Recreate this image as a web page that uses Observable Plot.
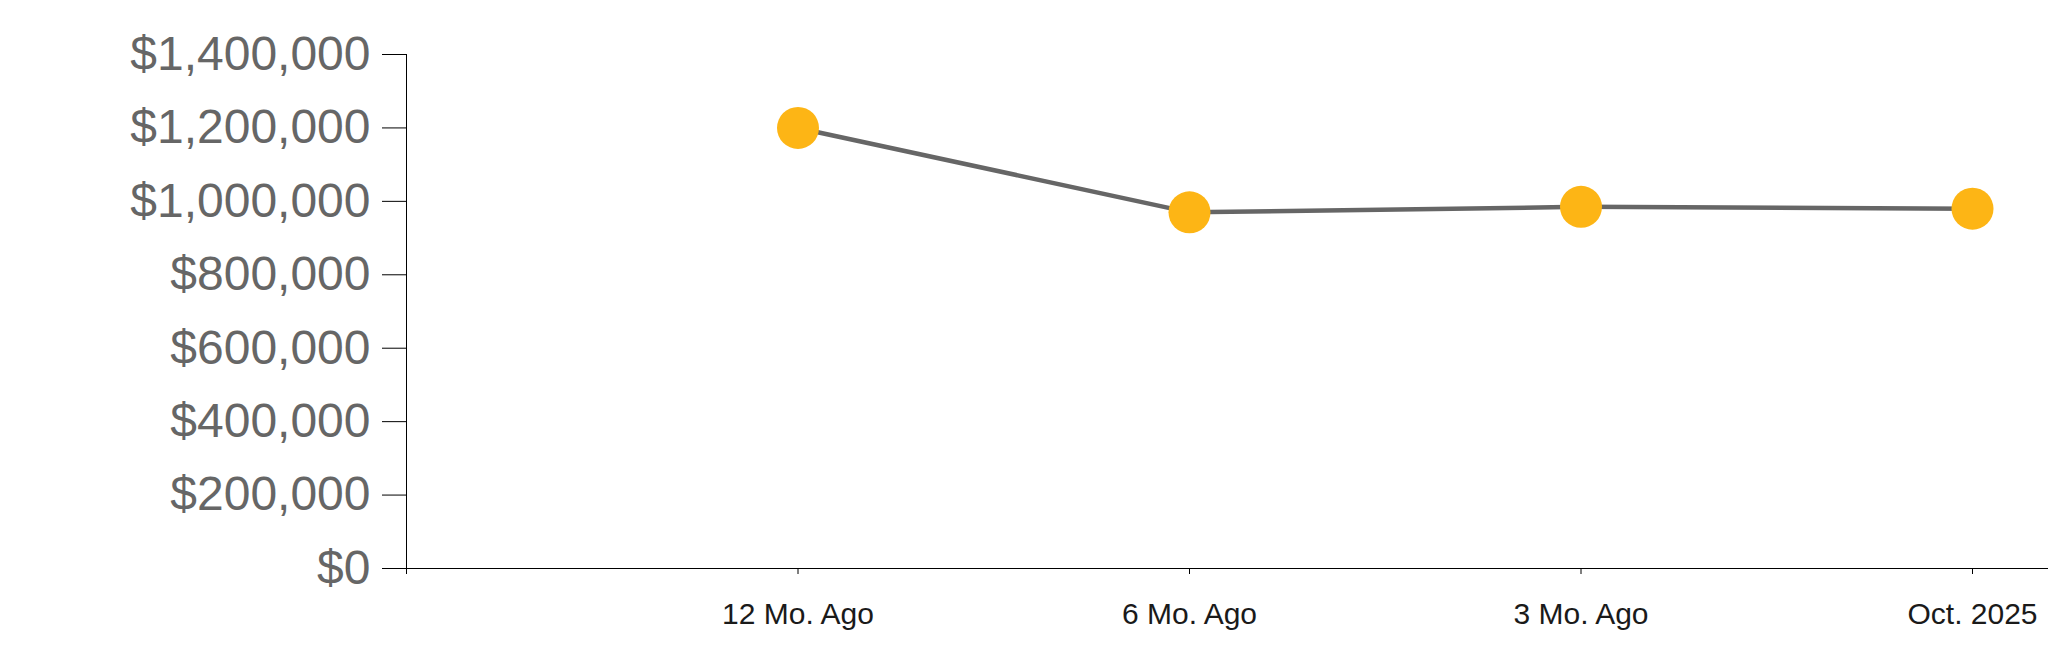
<!DOCTYPE html>
<html>
<head>
<meta charset="utf-8">
<script src="https://cdn.jsdelivr.net/npm/d3@7"></script>
<script src="https://cdn.jsdelivr.net/npm/@observablehq/plot@0.6"></script>
<style>
  html, body { margin: 0; padding: 0; background: #fff; }
  #chart svg { display: block; }
</style>
</head>
<body>
<div id="chart"></div>
<script>
const categories = ["12 Mo. Ago", "6 Mo. Ago", "3 Mo. Ago", "Oct. 2025"];
const values = [1200000, 970000, 985000, 980000];
const yTicks = [0, 200000, 400000, 600000, 800000, 1000000, 1200000, 1400000];
const xTicks = [0, 1, 2, 3, 4];

const data = categories.map((c, i) => ({pos: i + 1, label: c, value: values[i]}));
const fmt = d3.format("$,");

const W = 2048, H = 663;
const mL = 406, mR = 0, mT = 54, mB = 95;
const step = 391.5;
const xMax = (W - mL - mR) / step;

const chart = Plot.plot({
  width: W,
  height: H,
  marginLeft: mL,
  marginRight: mR,
  marginTop: mT,
  marginBottom: mB,
  style: {fontFamily: "'Liberation Sans', Arial, sans-serif", background: "#fff", overflow: "visible"},
  x: {type: "linear", domain: [0, xMax]},
  y: {domain: [0, 1400000]},
  marks: [
    Plot.axisY({ticks: yTicks, tickSize: 24, tickPadding: 12, tickFormat: fmt, fontSize: 48, fill: "#666", stroke: "#000", label: null}),
    Plot.axisX({ticks: xTicks, tickSize: 6, tickPadding: 28, tickFormat: d => d === 0 ? "" : categories[d - 1], fontSize: 30, fill: "#1a1a1a", stroke: "#000", label: null}),
    Plot.ruleX([0], {stroke: "#000"}),
    Plot.ruleY([0], {stroke: "#000"}),
    Plot.line(data, {x: "pos", y: "value", stroke: "#666", strokeWidth: 4.5}),
    Plot.dot(data, {x: "pos", y: "value", r: 21, fill: "#fdb515", stroke: "none"})
  ]
});
document.getElementById("chart").appendChild(chart);
</script>
</body>
</html>
